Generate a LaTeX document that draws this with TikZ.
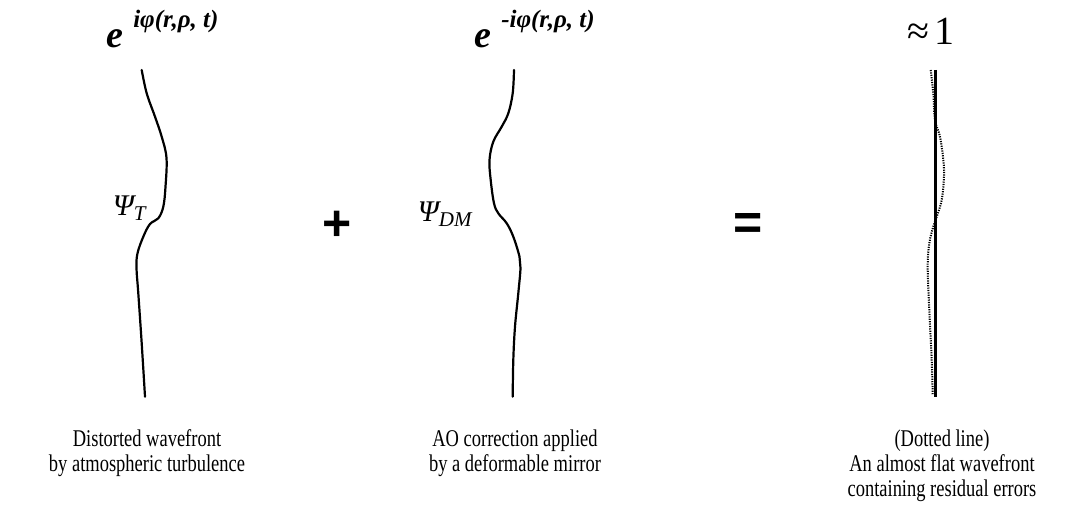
\documentclass[tikz,border=0pt]{standalone}
\usepackage{fontspec}
\setmainfont{Liberation Serif}
\newfontfamily\capfont{Liberation Serif}[FakeStretch=0.77]
\newfontfamily\opfont{Liberation Sans}
\usepackage{tikz}
\usetikzlibrary{
  positioning,
  calc
}
\tikzset{
  wfline/.style={line width=1.1pt, black, line cap=round},
  wfflat/.style={line width=1.5pt, black},
  wfdot/.style={line width=1pt, black, dash pattern=on 0.6pt off 0.6pt},
  phaselbl/.style={inner sep=0pt, anchor=base west, font=\bfseries\itshape},
  psilbl/.style={inner sep=0pt, anchor=base east, font=\itshape},
  oplbl/.style={inner sep=0pt, font=\opfont\bfseries\fontsize{25}{25}\selectfont},
  caption/.style={inner sep=0pt, anchor=north, align=center,
    font=\capfont\fontsize{12}{12.5}\selectfont}
}
\newcommand{\phasesup}[1]{{\fontsize{19}{19}\selectfont e}\hspace{5pt}\raisebox{10pt}{\fontsize{12.5}{12.5}\selectfont #1}}
\newcommand{\psisub}[1]{{\fontsize{15}{15}\selectfont \char"03A8}\raisebox{-2.5pt}{\fontsize{10.5}{10.5}\selectfont #1}}

\begin{document}
\begin{tikzpicture}[x=0.5pt, y=-0.5pt]
  \useasboundingbox (0,0) rectangle (1077,506);

  % distorted wavefront
  \draw[wfline] plot[smooth, tension=0.6] coordinates {
    (141.7,70) (146.7,93.3) (155,116.7) (161.7,136.7) (166.5,158)
    (165.5,186.7) (163.3,206.7) (158.3,218.3) (150,224) (143.3,236.7)
    (137.5,253.3) (136.5,268) (138.3,293.3) (141.7,343.3) (145,396.7)};
  % correction by the mirror
  \draw[wfline] plot[smooth, tension=0.6] coordinates {
    (514,70) (512.7,93.3) (508.3,113.3) (501.7,126.7) (493.3,141.7)
    (489.5,160) (490.7,180) (494,203.3) (498.3,213.3) (506.7,223.3)
    (513.3,236.7) (519.5,256.7) (520.5,268) (518.3,293.3) (515,326.7)
    (513.3,360) (512.7,396.7)};
  % corrected wavefront
  \draw[wfflat] (935.7,70) -- (935.7,397);
  \draw[wfdot] plot[smooth, tension=0.6] coordinates {
    (930.7,70) (933.3,93.3) (935,120) (940,136.7) (943.3,160)
    (944,176.7) (941.7,200) (937.3,215) (933.3,226.7) (929.3,243.3)
    (927.7,266.7) (929.3,310) (931.7,360) (932.7,395)};

  % phase labels
  \node[phaselbl] (phT) at (106,48) {\phasesup{iφ(r,ρ, t)}};
  \node[phaselbl] (phDM) at (474,48) {\phasesup{-iφ(r,ρ, t)}};
  \node[inner sep=0pt, anchor=base] (one) at (931,45)
    {\fontsize{20}{20}\selectfont ≈\hspace{3pt}1};

  \node[psilbl] (psiT) at (146,216) {\psisub{T}};
  \node[psilbl] (psiDM) at (472,222) {\psisub{DM}};

  \node[oplbl] (plus) at (337,226) {+};
  \node[oplbl] (equal) at (748,227) {=};

  % captions
  \foreach \x/\txt/\nm in {
    147/{Distorted wavefront\\by atmospheric turbulence}/T,
    515/{AO correction applied\\by a deformable mirror}/DM,
    942/{(Dotted line)\\An almost flat wavefront\\containing residual errors}/Res}{
    \node[caption] (cap\nm) at (\x,429) {\txt};
  }
\end{tikzpicture}
\end{document}
